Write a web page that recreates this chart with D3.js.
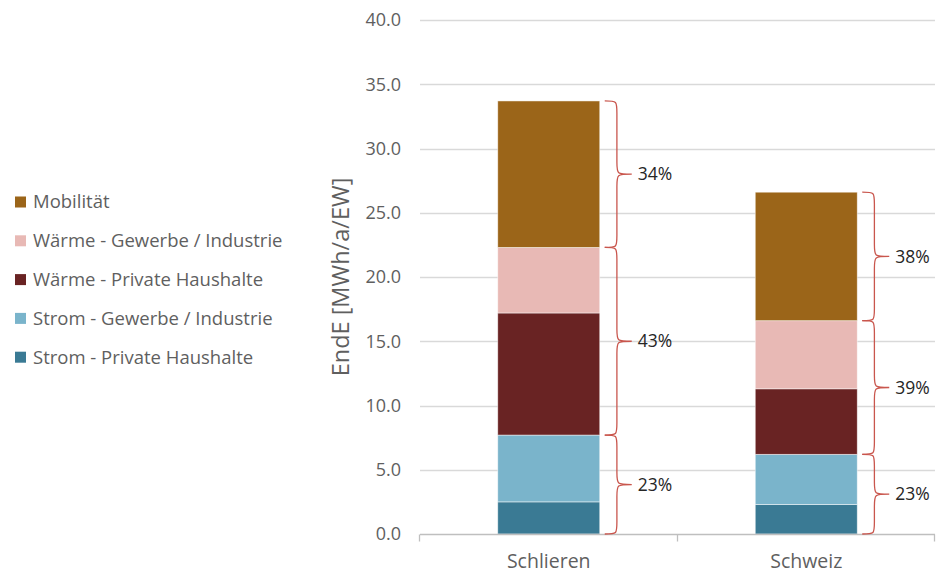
<!DOCTYPE html>
<html>
<head>
<meta charset="utf-8">
<script src="https://cdn.jsdelivr.net/npm/d3@7"></script>
<style>
  html, body { margin: 0; padding: 0; background: #fff; }
  svg { display: block; font-family: "Open Sans", "Noto Sans", sans-serif; }
</style>
</head>
<body>
<svg id="chart" width="939" height="575"></svg>
<script>
// Final energy per inhabitant, MWh/a/EW
const categories = ["Schlieren", "Schweiz"];
const seriesNames = [
  "Strom - Private Haushalte",
  "Strom - Gewerbe / Industrie",
  "Wärme - Private Haushalte",
  "Wärme - Gewerbe / Industrie",
  "Mobilität"
];
const stromPrivat = [2.5, 2.3];
const stromGewerbe = [5.2, 3.9];
const waermePrivat = [9.5, 5.1];
const waermeGewerbe = [5.1, 5.3];
const mobilitaet = [11.4, 10.0];
const yTicks = [0, 5, 10, 15, 20, 25, 30, 35, 40];
// groups of stacked series summarised by a brace (indices into seriesNames)
const groups = [[0, 1], [2, 3], [4]];

const colors = ["#3A7A94", "#7AB4CB", "#692323", "#E8B9B5", "#9B6519"];
const seriesValues = [stromPrivat, stromGewerbe, waermePrivat, waermeGewerbe, mobilitaet];

const rows = categories.map((c, i) => {
  const r = { category: c };
  seriesNames.forEach((s, k) => r[s] = seriesValues[k][i]);
  return r;
});

const svg = d3.select("#chart");
const margin = { left: 420, right: 4, top: 20, bottom: 41 };
const width = 939, height = 575;
const textGray = "#5f5f5f";

const x = d3.scaleBand().domain(categories)
  .range([margin.left, width - margin.right]).paddingInner(0).paddingOuter(0);
const y = d3.scaleLinear().domain([0, 40]).range([height - margin.bottom, margin.top]);

// grid lines
svg.append("g")
  .selectAll("line").data(yTicks.filter(t => t > 0)).join("line")
  .attr("x1", margin.left).attr("x2", width - margin.right)
  .attr("y1", d => Math.round(y(d)) + 0.5).attr("y2", d => Math.round(y(d)) + 0.5)
  .attr("stroke", "#D9D9D9").attr("stroke-width", 1.3);

// y axis labels
const yAxis = svg.append("g")
  .attr("transform", `translate(${margin.left},0)`)
  .call(d3.axisLeft(y).tickValues(yTicks).tickFormat(d3.format(".1f")).tickSize(0).tickPadding(19));
yAxis.select(".domain").remove();
yAxis.selectAll("text").attr("fill", textGray).attr("font-size", 18).attr("font-family", "Open Sans, sans-serif");

// axis title
svg.append("text")
  .attr("transform", `translate(349,${(y(0) + y(40)) / 2}) rotate(-90)`)
  .attr("text-anchor", "middle")
  .attr("fill", textGray).attr("font-size", 23.5)
  .text("EndE [MWh/a/EW]");

// stacked bars
const stack = d3.stack().keys(seriesNames);
const stacked = stack(rows);
const barW = 102;
svg.append("g").selectAll("g").data(stacked).join("g")
  .attr("fill", (d, i) => colors[i])
  .selectAll("rect").data(d => d).join("rect")
  .attr("x", d => x(d.data.category) + x.bandwidth() / 2 - barW / 2)
  .attr("width", barW)
  .attr("y", d => y(d[1]))
  .attr("height", d => y(d[0]) - y(d[1]))
  .attr("stroke", "#fff").attr("stroke-width", 0.8).attr("stroke-opacity", 0.6);

// category axis
const base = Math.round(y(0)) + 0.5;
const xAxisG = svg.append("g");
xAxisG.append("line").attr("x1", margin.left).attr("x2", width - margin.right)
  .attr("y1", base).attr("y2", base).attr("stroke", "#BFBFBF").attr("stroke-width", 1.3);
const tickXs = [margin.left, ...categories.map(c => x(c) + x.bandwidth())];
xAxisG.selectAll("line.tick").data(tickXs).join("line").attr("class", "tick")
  .attr("x1", d => Math.round(d) - 0.5).attr("x2", d => Math.round(d) - 0.5)
  .attr("y1", base).attr("y2", base + 7).attr("stroke", "#BFBFBF").attr("stroke-width", 1.3);
xAxisG.selectAll("text").data(categories).join("text")
  .attr("x", d => x(d) + x.bandwidth() / 2).attr("y", 568)
  .attr("text-anchor", "middle").attr("fill", textGray).attr("font-size", 19.5)
  .text(d => d);

// right-facing curly brace from y0 (top) to y1 (bottom)
function brace(x0, y0, y1, depth) {
  const xm = x0 + depth * 0.45, xt = x0 + depth;
  const mid = (y0 + y1) / 2;
  const r = Math.min(12, (y1 - y0) / 4);
  return `M${x0},${y0} C${xm},${y0} ${xm},${y0} ${xm},${y0 + r}`
    + ` L${xm},${mid - r} C${xm},${mid} ${xm},${mid} ${xt},${mid}`
    + ` C${xm},${mid} ${xm},${mid} ${xm},${mid + r}`
    + ` L${xm},${y1 - r} C${xm},${y1} ${xm},${y1} ${x0},${y1}`;
}

const braceG = svg.append("g");
categories.forEach((c, ci) => {
  const total = seriesValues.reduce((s, v) => s + v[ci], 0);
  const bx = x(c) + x.bandwidth() / 2 + barW / 2 + 5;
  groups.forEach(g => {
    const lo = d3.sum(seriesValues.slice(0, g[0]), v => v[ci]);
    const val = d3.sum(g, k => seriesValues[k][ci]);
    const hi = lo + val;
    const yTop = y(hi), yBot = y(lo);
    braceG.append("path")
      .attr("d", brace(bx, yTop, yBot, 27))
      .attr("fill", "none").attr("stroke", "#C9564D").attr("stroke-width", 1.3);
    braceG.append("text")
      .attr("x", bx + 33).attr("y", (yTop + yBot) / 2)
      .attr("dy", "0.35em").attr("fill", "#262626").attr("font-size", 17.5)
      .text(Math.round(val / total * 100) + "%");
  });
});

// legend (top to bottom reverse of stack order)
const legendItems = seriesNames.map((s, i) => ({ name: s, color: colors[i] })).reverse();
const leg = svg.append("g").selectAll("g").data(legendItems).join("g")
  .attr("transform", (d, i) => `translate(15,${202 + i * 38.8})`);
leg.append("rect").attr("x", 0).attr("y", -5.5).attr("width", 11).attr("height", 11)
  .attr("fill", d => d.color);
leg.append("text").attr("x", 18).attr("y", 0).attr("dy", "0.35em")
  .attr("fill", textGray).attr("font-size", 18.5).text(d => d.name);
</script>
</body>
</html>
